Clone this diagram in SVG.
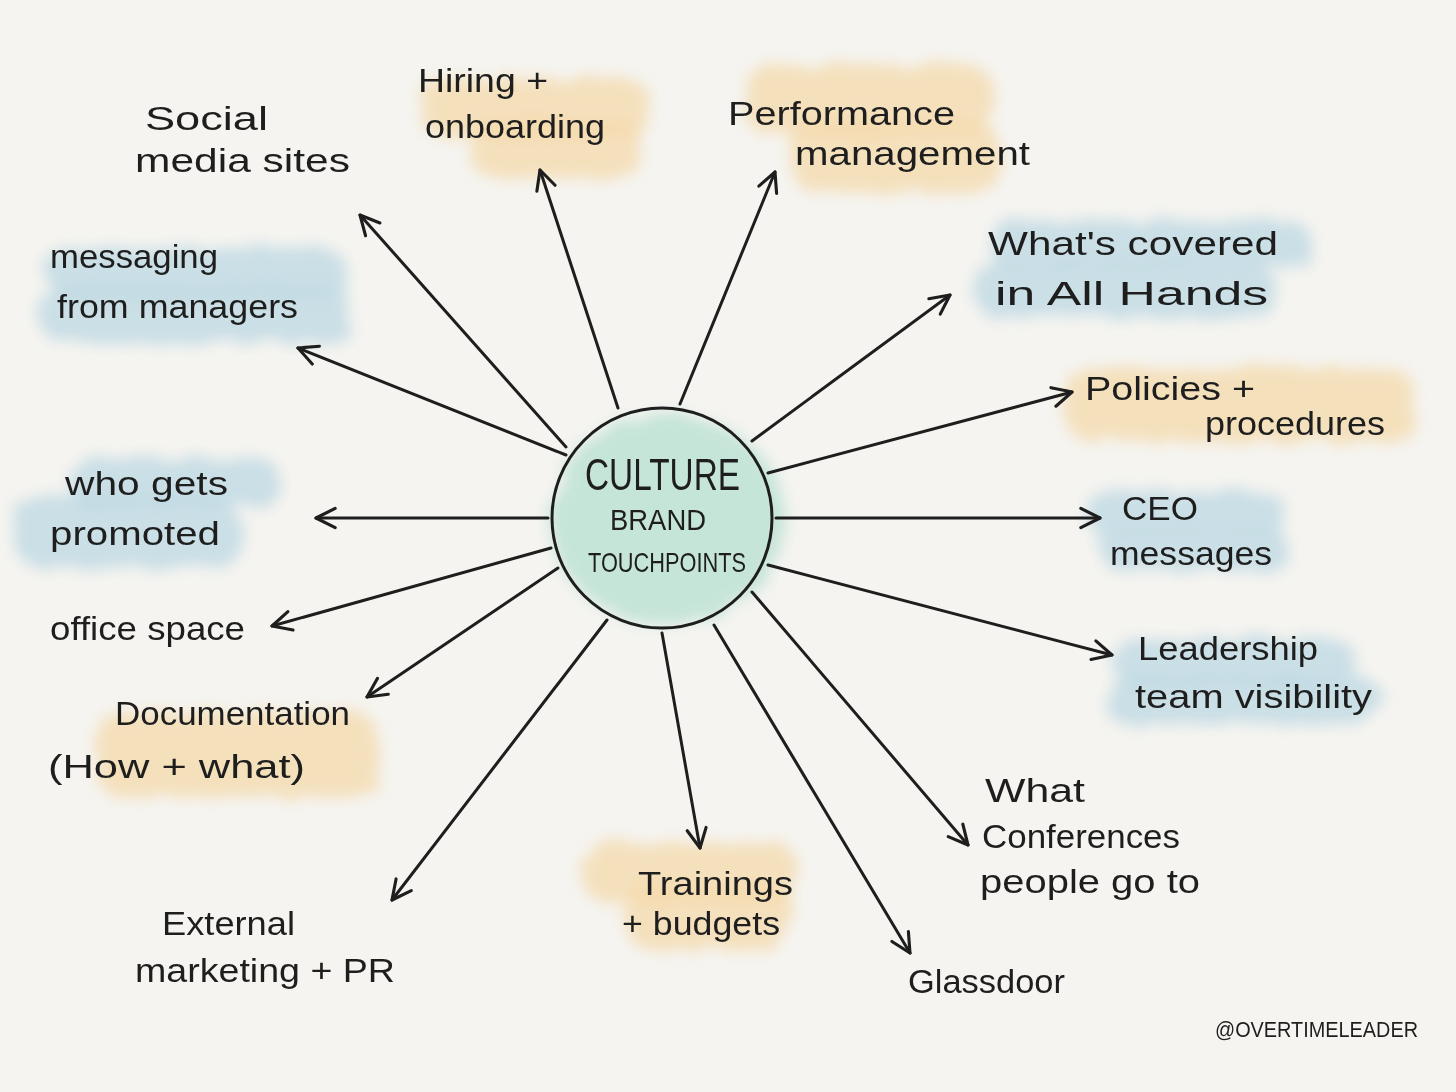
<svg xmlns="http://www.w3.org/2000/svg" width="1456" height="1092" viewBox="0 0 1456 1092">
<defs>
<filter id="wash" x="-20%" y="-40%" width="140%" height="180%">
<feTurbulence type="fractalNoise" baseFrequency="0.04" numOctaves="2" seed="3" result="n"/>
<feDisplacementMap in="SourceGraphic" in2="n" scale="16" result="d"/>
<feGaussianBlur in="d" stdDeviation="7"/>
</filter>
<marker id="ah" viewBox="0 0 20 20" refX="18" refY="10" markerWidth="24" markerHeight="24" markerUnits="userSpaceOnUse" orient="auto">
<path d="M2,2 L18,10 L2,18" fill="none" stroke="#1e1e1e" stroke-width="2.6" stroke-linecap="round" stroke-linejoin="round"/>
</marker>
</defs>
<style>
.t{font-family:"Liberation Sans","Open Sans",sans-serif;font-size:34px;fill:#1e1e1e;font-weight:400}
.c{font-family:"Liberation Sans","Open Sans",sans-serif;fill:#1e1e1e}
.ln{stroke:#1e1e1e;stroke-width:3;fill:none;stroke-linecap:round;marker-end:url(#ah)}
.blue{fill:#bfdae4;opacity:0.8}
.orange{fill:#f4daab;opacity:0.75}
.green{fill:#c3e4d7;opacity:0.95}
</style>
<rect x="0" y="0" width="1456" height="1092" fill="#f5f4f0"/>

<g id="washes" filter="url(#wash)">
<rect class="blue" x="45" y="248" width="300" height="50" rx="22"/>
<rect class="blue" x="40" y="285" width="310" height="58" rx="25"/>
<rect class="orange" x="420" y="78" width="230" height="60" rx="25"/>
<rect class="orange" x="470" y="120" width="170" height="58" rx="25"/>
<rect class="orange" x="745" y="65" width="250" height="70" rx="28"/>
<rect class="orange" x="790" y="120" width="210" height="72" rx="28"/>
<rect class="blue" x="990" y="220" width="320" height="48" rx="22"/>
<rect class="blue" x="975" y="262" width="300" height="56" rx="24"/>
<rect class="orange" x="1065" y="368" width="350" height="74" rx="28"/>
<rect class="blue" x="1085" y="492" width="200" height="42" rx="20"/>
<rect class="blue" x="1100" y="528" width="190" height="42" rx="20"/>
<rect class="blue" x="1115" y="638" width="240" height="48" rx="22"/>
<rect class="blue" x="1105" y="676" width="275" height="48" rx="22"/>
<rect class="blue" x="70" y="458" width="210" height="50" rx="22"/>
<rect class="blue" x="15" y="495" width="225" height="73" rx="28"/>
<rect class="orange" x="95" y="712" width="285" height="85" rx="30"/>
<rect class="orange" x="582" y="842" width="215" height="60" rx="26"/>
<rect class="orange" x="625" y="885" width="165" height="65" rx="26"/>
<ellipse class="green" cx="668" cy="520" rx="118" ry="105"/>
</g>

<g id="connectors">
<line class="ln" x1="566" y1="447" x2="360" y2="215"/>
<line class="ln" x1="618" y1="408" x2="540" y2="170"/>
<line class="ln" x1="680" y1="404" x2="775" y2="172"/>
<line class="ln" x1="752" y1="441" x2="950" y2="295"/>
<line class="ln" x1="768" y1="473" x2="1072" y2="392"/>
<line class="ln" x1="776" y1="518" x2="1100" y2="518"/>
<line class="ln" x1="768" y1="565" x2="1112" y2="655"/>
<line class="ln" x1="752" y1="592" x2="968" y2="845"/>
<line class="ln" x1="714" y1="625" x2="910" y2="953"/>
<line class="ln" x1="662" y1="633" x2="700" y2="848"/>
<line class="ln" x1="607" y1="620" x2="392" y2="900"/>
<line class="ln" x1="558" y1="568" x2="367" y2="697"/>
<line class="ln" x1="551" y1="548" x2="272" y2="626"/>
<line class="ln" x1="548" y1="518" x2="316" y2="518"/>
<line class="ln" x1="566" y1="455" x2="298" y2="348"/>
</g>

<g id="center">
<circle cx="662" cy="518" r="110" fill="none" stroke="#1e1e1e" stroke-width="3"/>
<text class="c" x="585" y="490" font-size="44" textLength="155" lengthAdjust="spacingAndGlyphs">CULTURE</text>
<text class="c" x="610" y="530" font-size="30" textLength="96" lengthAdjust="spacingAndGlyphs">BRAND</text>
<text class="c" x="588" y="572" font-size="28" textLength="158" lengthAdjust="spacingAndGlyphs">TOUCHPOINTS</text>
</g>

<g id="social-media">
<text class="t" x="145" y="130" textLength="123" lengthAdjust="spacingAndGlyphs">Social</text>
<text class="t" x="135" y="172" textLength="215" lengthAdjust="spacingAndGlyphs">media sites</text>
</g>
<g id="hiring">
<text class="t" x="418" y="92" textLength="130" lengthAdjust="spacingAndGlyphs">Hiring +</text>
<text class="t" x="425" y="138" textLength="180" lengthAdjust="spacingAndGlyphs">onboarding</text>
</g>
<g id="performance">
<text class="t" x="728" y="125" textLength="227" lengthAdjust="spacingAndGlyphs">Performance</text>
<text class="t" x="795" y="165" textLength="235" lengthAdjust="spacingAndGlyphs">management</text>
</g>
<g id="all-hands">
<text class="t" x="988" y="255" textLength="290" lengthAdjust="spacingAndGlyphs">What's covered</text>
<text class="t" x="995" y="305" textLength="273" lengthAdjust="spacingAndGlyphs">in All Hands</text>
</g>
<g id="policies">
<text class="t" x="1085" y="400" textLength="170" lengthAdjust="spacingAndGlyphs">Policies +</text>
<text class="t" x="1205" y="435" textLength="180" lengthAdjust="spacingAndGlyphs">procedures</text>
</g>
<g id="ceo">
<text class="t" x="1122" y="520" textLength="76" lengthAdjust="spacingAndGlyphs">CEO</text>
<text class="t" x="1110" y="565" textLength="162" lengthAdjust="spacingAndGlyphs">messages</text>
</g>
<g id="leadership">
<text class="t" x="1138" y="660" textLength="180" lengthAdjust="spacingAndGlyphs">Leadership</text>
<text class="t" x="1135" y="708" textLength="237" lengthAdjust="spacingAndGlyphs">team visibility</text>
</g>
<g id="conferences">
<text class="t" x="985" y="802" textLength="100" lengthAdjust="spacingAndGlyphs">What</text>
<text class="t" x="982" y="848" textLength="198" lengthAdjust="spacingAndGlyphs">Conferences</text>
<text class="t" x="980" y="893" textLength="220" lengthAdjust="spacingAndGlyphs">people go to</text>
</g>
<g id="glassdoor">
<text class="t" x="908" y="993" textLength="157" lengthAdjust="spacingAndGlyphs">Glassdoor</text>
</g>
<g id="trainings">
<text class="t" x="638" y="895" textLength="155" lengthAdjust="spacingAndGlyphs">Trainings</text>
<text class="t" x="622" y="935" font-size="30" textLength="158" lengthAdjust="spacingAndGlyphs">+ budgets</text>
</g>
<g id="external">
<text class="t" x="162" y="935" textLength="133" lengthAdjust="spacingAndGlyphs">External</text>
<text class="t" x="135" y="982" textLength="260" lengthAdjust="spacingAndGlyphs">marketing + PR</text>
</g>
<g id="documentation">
<text class="t" x="115" y="725" textLength="235" lengthAdjust="spacingAndGlyphs">Documentation</text>
<text class="t" x="48" y="778" textLength="257" lengthAdjust="spacingAndGlyphs">(How + what)</text>
</g>
<g id="office-space">
<text class="t" x="50" y="640" textLength="195" lengthAdjust="spacingAndGlyphs">office space</text>
</g>
<g id="promoted">
<text class="t" x="65" y="495" textLength="163" lengthAdjust="spacingAndGlyphs">who gets</text>
<text class="t" x="50" y="545" textLength="170" lengthAdjust="spacingAndGlyphs">promoted</text>
</g>
<g id="messaging">
<text class="t" x="50" y="268" textLength="168" lengthAdjust="spacingAndGlyphs">messaging</text>
<text class="t" x="57" y="318" textLength="241" lengthAdjust="spacingAndGlyphs">from managers</text>
</g>
<g id="credit">
<text class="c" x="1215" y="1037" font-size="22" textLength="203" lengthAdjust="spacingAndGlyphs">@OVERTIMELEADER</text>
</g>
</svg>
